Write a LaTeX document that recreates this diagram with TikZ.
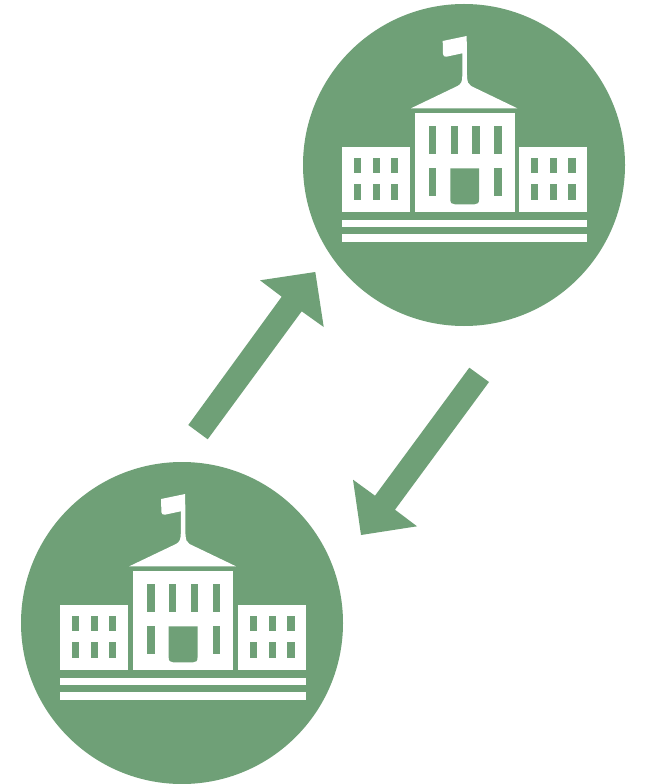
\documentclass[tikz,border=0pt]{standalone}
\definecolor{leaf}{HTML}{6FA077}
\tikzset{
  x=0.75pt,y=-0.75pt,
  wall/.style={fill=white,draw=none},
  hole/.style={fill=leaf,draw=none},
  mass/.style={fill=leaf,draw=none},
  pics/school/.style={code={
    % flag, pole and roof
    \fill[wall] (442.7,41) -- (466.7,36) -- (467,76) .. controls (467.3,82) and (468,84) .. (471,86) -- (517.3,108.3) -- (411,108.3) -- (457.5,86) .. controls (461,84) and (462.2,82) .. (462.3,76) -- (462.3,53.3) -- (446.5,56.7) .. controls (444.5,57) and (443,56) .. (443,54) -- cycle;
    % blocks
    \fill[wall] (415,113.3) rectangle (514.7,211.7);
    \fill[wall] (342,146.7) rectangle (410,212.3);
    \fill[wall] (519.3,146.7) rectangle (587,212.3);
    \fill[wall] (342,220) rectangle (587,226.7);
    \fill[wall] (342,234.3) rectangle (587,241.7);
    % central windows
    \foreach \wx in {429,450.7,472.3,494.3}
      \fill[hole] (\wx,126) rectangle ++(7.3,28);
    \foreach \wx in {429,494.3}
      \fill[hole] (\wx,168.3) rectangle ++(7.3,28);
    % door
    \fill[hole] (450.3,168.3) -- (479,168.3) -- (479,199.5) .. controls (479,203) and (477.5,204.3) .. (474.5,204.3) -- (455,204.3) .. controls (452,204.3) and (450.3,203) .. (450.3,199.5) -- cycle;
    % wing windows
    \foreach \wx in {353.7,372.7,391,531,549.7,568.3}
      \foreach \wy in {157.7,184.3}
        \fill[hole] (\wx,\wy) rectangle ++(7.3,15.7);
  }}
}
\begin{document}
\begin{tikzpicture}
  \useasboundingbox (0,0) rectangle (644,784);
  \fill[white] (0,0) rectangle (644,784);
  \fill[mass] (464,165) circle[radius=161];
  \fill[mass] (182,623) circle[radius=161];
  \pic {school};
  \pic[shift={(-283.4,458)},xscale=1.004] {school};
  \fill[mass] (188.3,425) -- (207.7,439.3) -- (301.7,311.3) -- (323.7,327) -- (315.3,272) -- (260,280.3) -- (281.7,296.7) -- cycle;
  \fill[mass] (469.3,367.7) -- (489,382) -- (395,509.7) -- (417,526.3) -- (361,535) -- (353,479.7) -- (375,495.7) -- cycle;
\end{tikzpicture}
\end{document}
